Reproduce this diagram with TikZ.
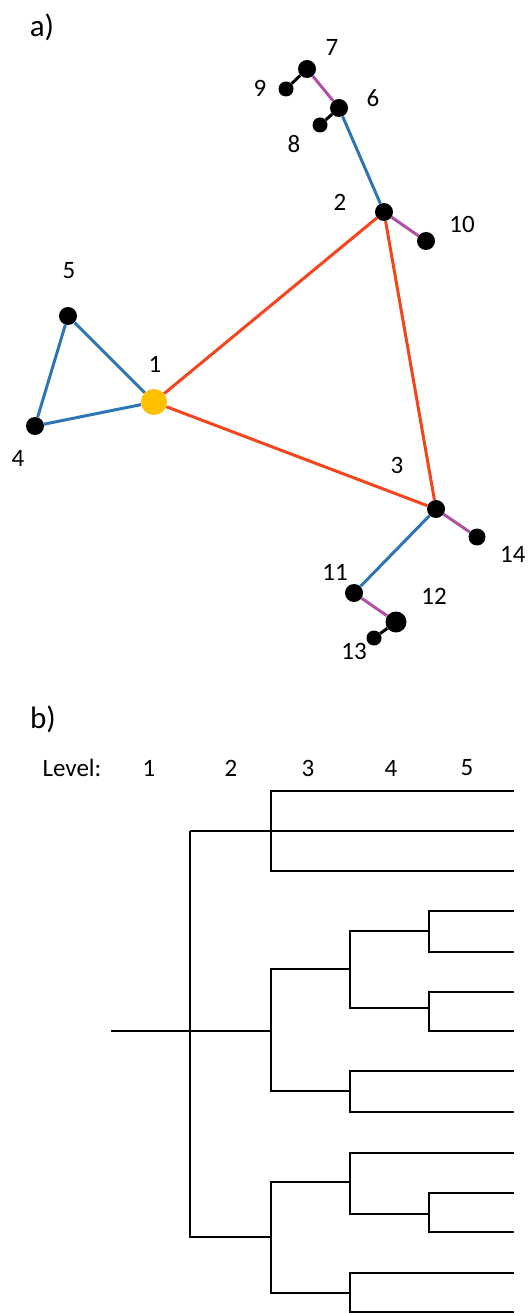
\documentclass[tikz,border=0pt]{standalone}
\usepackage{fontspec}
\setmainfont{Carlito}
\definecolor{eblue}{HTML}{2E75B6}
\definecolor{ered}{HTML}{F5451F}
\definecolor{epurple}{HTML}{B04FA6}
\definecolor{eorange}{HTML}{FFC000}
\begin{document}
\begin{tikzpicture}[x=1pt,y=-1pt,
  vtx/.style={circle,fill=black,inner sep=0pt,minimum size=#1},
  lbl/.style={font=\fontsize{25}{28}\selectfont,inner sep=0pt},
  panel/.style={font=\fontsize{31}{34}\selectfont,inner sep=0pt},
  eb/.style={eblue,line width=3pt},
  er/.style={ered,line width=3pt},
  ep/.style={epurple,line width=3pt},
  ek/.style={black,line width=3pt},
  tree/.style={black,line width=2pt},
  treethin/.style={black,line width=1.5pt}]
\useasboundingbox (0,0) rectangle (528,1313);

% panel a
\node[panel] (pa) at (42,27) {a)};
\node[vtx=18pt] (n7) at (307,69) {};
\node[vtx=15pt] (n9) at (286,89) {};
\node[vtx=18pt] (n6) at (339,108) {};
\node[vtx=15pt] (n8) at (320,125) {};
\node[vtx=18pt] (n2) at (384,212) {};
\node[vtx=18pt] (n10) at (426,241) {};
\node[vtx=18pt] (n5) at (68,316) {};
\node[circle,fill=eorange,inner sep=0pt,minimum size=26pt] (n1) at (154,402) {};
\node[vtx=18pt] (n4) at (35,426) {};
\node[vtx=18pt] (n3) at (436,509) {};
\node[vtx=17pt] (n14) at (477,537) {};
\node[vtx=18pt] (n11) at (354,593) {};
\node[vtx=21pt] (n12) at (396,622) {};
\node[vtx=15pt] (n13) at (374,638) {};

\draw[ek] (n7) -- (n9);
\draw[ep] (n7) -- (n6);
\draw[ek] (n6) -- (n8);
\draw[eb] (n6) -- (n2);
\draw[ep] (n2) -- (n10);
\draw[er] (n2) -- (n1);
\draw[er] (n2) -- (n3);
\draw[er] (n1) -- (n3);
\draw[eb] (n1) -- (n5);
\draw[eb] (n1) -- (n4);
\draw[eb] (n5) -- (n4);
\draw[ep] (n3) -- (n14);
\draw[eb] (n3) -- (n11);
\draw[ep] (n11) -- (n12);
\draw[ek] (n12) -- (n13);

\node[lbl] (l7) at (332,47) {7};
\node[lbl] (l9) at (260,88) {9};
\node[lbl] (l6) at (373,98) {6};
\node[lbl] (l8) at (294,144) {8};
\node[lbl] (l2) at (340,202) {2};
\node[lbl] (l10) at (462,224) {10};
\node[lbl] (l5) at (69,271) {5};
\node[lbl] (l1) at (155,364) {1};
\node[lbl] (l4) at (18,458) {4};
\node[lbl] (l3) at (397,465) {3};
\node[lbl,anchor=west] (l14) at (500,554) {14};
\node[lbl] (l11) at (335,572) {11};
\node[lbl] (l12) at (434,596) {12};
\node[lbl] (l13) at (354,651) {13};

% panel b
\node[panel] (pb) at (43,719) {b)};
\node[lbl] (lev) at (72,768) {Level:};
\node[lbl] (lv1) at (149,768) {1};
\node[lbl] (lv2) at (231,768) {2};
\node[lbl] (lv3) at (308,768) {3};
\node[lbl] (lv4) at (391,768) {4};
\node[lbl] (lv5) at (467,768) {5};

\draw[treethin] (111,1031) -- (271,1031);
\draw[tree] (514,791) -- (271,791) -- (271,871) -- (514,871);
\draw[tree] (190,831) -- (514,831);
\draw[tree] (190,831) -- (190,1237) -- (271,1237);
\draw[tree] (350,969) -- (271,969) -- (271,1091) -- (350,1091);
\draw[tree] (429,931) -- (350,931) -- (350,1008) -- (429,1008);
\draw[tree] (514,911) -- (429,911) -- (429,952) -- (514,952);
\draw[tree] (514,992) -- (429,992) -- (429,1031) -- (514,1031);
\draw[tree] (514,1071) -- (350,1071) -- (350,1112) -- (514,1112);
\draw[tree] (350,1182) -- (271,1182) -- (271,1293) -- (350,1293);
\draw[tree] (514,1153) -- (350,1153) -- (350,1214) -- (429,1214);
\draw[tree] (514,1193) -- (429,1193) -- (429,1232) -- (514,1232);
\draw[tree] (514,1273) -- (350,1273) -- (350,1312) -- (514,1312);
\end{tikzpicture}
\end{document}
